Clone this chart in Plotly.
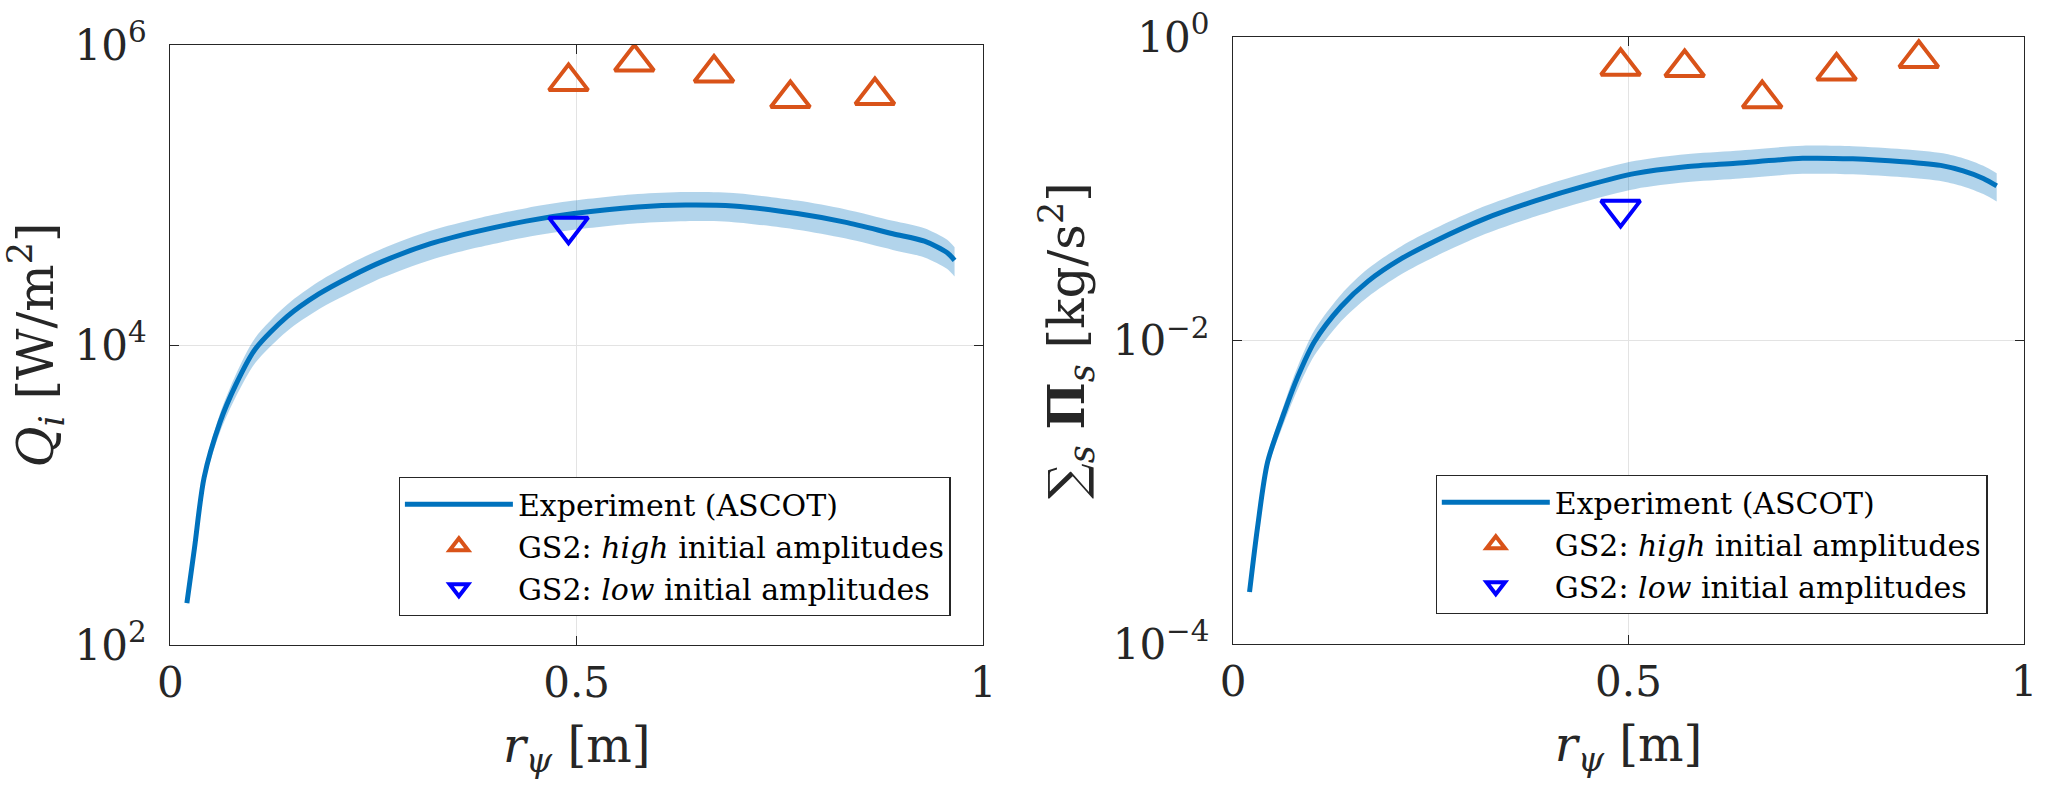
import plotly.graph_objects as go

# ---- Ion heat flux profile (left panel) ----
r_q = [0.0204, 0.0298, 0.0416, 0.0612, 0.0808, 0.1044, 0.1436, 0.1828,
       0.2221, 0.2613, 0.3202, 0.379, 0.4378, 0.4967, 0.5752, 0.634, 0.6929,
       0.7714, 0.830, 0.889, 0.928, 0.956, 0.965]
q_exp = [190, 445, 1310, 3060, 5460, 9370, 15460, 21900, 28650, 36100, 47350,
         57400, 67000, 75200, 83200, 85800, 84500, 75200, 65900, 55200, 49200,
         41200, 36700]
q_rel_err = [0.04, 0.07, 0.10, 0.14, 0.17, 0.19, 0.20, 0.21, 0.22, 0.22, 0.22,
             0.22, 0.22, 0.22, 0.22, 0.22, 0.22, 0.22, 0.22, 0.22, 0.22, 0.22,
             0.22]

r_gs2_high = [0.490, 0.571, 0.669, 0.763, 0.867]
q_gs2_high = [5.7e5, 7.7e5, 6.5e5, 4.4e5, 4.6e5]
r_gs2_low = [0.490]
q_gs2_low = [6.2e4]

# ---- Momentum flux profile (right panel) ----
r_p = [0.0209, 0.031, 0.0437, 0.0649, 0.0818, 0.1029, 0.1367, 0.1705, 0.2128,
       0.2551, 0.3186, 0.382, 0.4454, 0.5089, 0.5722, 0.6357, 0.7202, 0.7836,
       0.847, 0.8977, 0.9231, 0.9486, 0.9655]
p_exp = [2.2e-4, 5.86e-4, 1.58e-3, 3.38e-3, 5.77e-3, 9.84e-3, 0.0168, 0.0246,
         0.0347, 0.0453, 0.0638, 0.0834, 0.1048, 0.1267, 0.140, 0.1477, 0.1592,
         0.158, 0.151, 0.142, 0.1316, 0.1174, 0.1048]
p_rel_err = [0.04, 0.07, 0.10, 0.14, 0.17, 0.19, 0.20, 0.21, 0.21, 0.21, 0.21,
             0.21, 0.21, 0.21, 0.21, 0.21, 0.21, 0.21, 0.21, 0.21, 0.21, 0.21,
             0.21]

p_gs2_high = [0.644, 0.632, 0.394, 0.60, 0.726]
p_gs2_low = [0.0734]

x_ticks = [0, 0.5, 1]
x_ticktext = ["0", "0.5", "1"]
q_ticks = [1e2, 1e4, 1e6]
q_ticktext = ["10<sup>2</sup>", "10<sup>4</sup>", "10<sup>6</sup>"]
p_ticks = [1e-4, 1e-2, 1e0]
p_ticktext = ["10<sup>\u22124</sup>", "10<sup>\u22122</sup>", "10<sup>0</sup>"]

BLUE = "#0072BD"
BAND = "rgba(0,114,189,0.3)"
ORANGE = "#D95319"
PURE_BLUE = "#0000FF"
INK = "#262626"
FONT = "DejaVu Serif"

fig = go.Figure()


def add_panel(r, y, rel, r_hi, y_hi, r_lo, y_lo, xa, ya, legend):
    lo = [v * (1 - e) for v, e in zip(y, rel)]
    hi = [v * (1 + e) for v, e in zip(y, rel)]
    fig.add_trace(go.Scatter(x=r, y=lo, mode="lines",
                             line=dict(width=0, shape="spline", smoothing=0.8),
                             showlegend=False, hoverinfo="skip",
                             xaxis=xa, yaxis=ya))
    fig.add_trace(go.Scatter(x=r, y=hi, mode="lines",
                             line=dict(width=0, shape="spline", smoothing=0.8),
                             fill="tonexty", fillcolor=BAND,
                             showlegend=False, hoverinfo="skip",
                             xaxis=xa, yaxis=ya))
    fig.add_trace(go.Scatter(x=r, y=y, mode="lines",
                             line=dict(color=BLUE, width=5, shape="spline",
                                       smoothing=0.8),
                             name="Experiment (ASCOT)",
                             xaxis=xa, yaxis=ya, legend=legend))
    fig.add_trace(go.Scatter(x=r_hi, y=y_hi, mode="markers",
                             marker=dict(symbol="triangle-up-open", size=34,
                                         color=ORANGE,
                                         line=dict(width=4, color=ORANGE)),
                             name="GS2: <i>high</i> initial amplitudes",
                             xaxis=xa, yaxis=ya, legend=legend))
    fig.add_trace(go.Scatter(x=r_lo, y=y_lo, mode="markers",
                             marker=dict(symbol="triangle-down-open", size=34,
                                         color=PURE_BLUE,
                                         line=dict(width=4, color=PURE_BLUE)),
                             name="GS2: <i>low</i> initial amplitudes",
                             xaxis=xa, yaxis=ya, legend=legend))


add_panel(r_q, q_exp, q_rel_err, r_gs2_high, q_gs2_high, r_gs2_low, q_gs2_low,
          "x", "y", "legend")
add_panel(r_p, p_exp, p_rel_err, r_gs2_high, p_gs2_high, r_gs2_low, p_gs2_low,
          "x2", "y2", "legend2")

W, H = 2049, 788

xaxis_common = dict(
    range=[0, 1], tickvals=x_ticks, ticktext=x_ticktext,
    showline=True, linecolor=INK, linewidth=1.3, mirror="allticks",
    ticks="inside", ticklen=9, tickcolor=INK, tickwidth=1.3,
    showgrid=True, gridcolor="#E3E3E3", gridwidth=1, zeroline=False,
    tickfont=dict(family=FONT, size=42, color=INK), ticklabelstandoff=0,
    title=dict(text="<i>r<sub>\u03c8</sub></i> [m]",
               font=dict(family=FONT, size=48, color=INK), standoff=22),
    automargin=False,
)
yaxis_common = dict(
    type="log",
    showline=True, linecolor=INK, linewidth=1.3, mirror="allticks",
    ticks="inside", ticklen=9, tickcolor=INK, tickwidth=1.3,
    showgrid=True, gridcolor="#E3E3E3", gridwidth=1, zeroline=False,
    tickfont=dict(family=FONT, size=42, color=INK), ticklabelstandoff=14,
    automargin=False,
)

legend_common = dict(
    xanchor="left", yanchor="top", bgcolor="white", bordercolor=INK,
    borderwidth=1.3, font=dict(family=FONT, size=30, color="#000000"),
    tracegroupgap=0, itemwidth=108, traceorder="normal",
)

fig.update_layout(
    width=W, height=H,
    margin=dict(l=0, r=0, t=0, b=0),
    paper_bgcolor="white", plot_bgcolor="white",
    font=dict(family=FONT, color=INK),
    xaxis=dict(domain=[170.3 / W, 983 / W], anchor="y", **xaxis_common),
    yaxis=dict(domain=[(H - 645) / H, (H - 45) / H], anchor="x",
               range=[2, 6], tickvals=q_ticks, ticktext=q_ticktext,
               title=dict(text="<i>Q<sub>i</sub></i> [W/m<sup>2</sup>]",
                          font=dict(family=FONT, size=50, color=INK),
                          standoff=12),
               **yaxis_common),
    xaxis2=dict(domain=[1233 / W, 2024 / W], anchor="y2", **xaxis_common),
    yaxis2=dict(domain=[(H - 644) / H, (H - 37.3) / H], anchor="x2",
                range=[-4, 0], tickvals=p_ticks, ticktext=p_ticktext,
                title=dict(text="\u2211<sub><i>s</i></sub> <b>\u03a0</b><sub><i>s</i></sub> [kg/s<sup>2</sup>]",
                           font=dict(family=FONT, size=50, color=INK),
                           standoff=12),
                **yaxis_common),
    legend=dict(x=398.6 / W, y=(H - 477) / H, **legend_common),
    legend2=dict(x=1435.5 / W, y=(H - 475) / H, **legend_common),
)

fig.write_html("out.html")
